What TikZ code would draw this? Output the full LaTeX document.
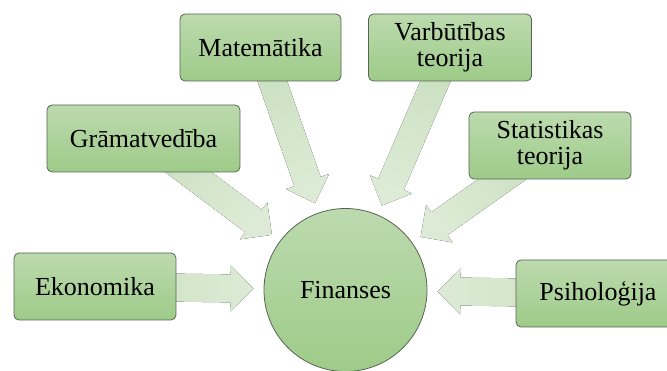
\documentclass[tikz,border=0pt]{standalone}
\usepackage{fontspec}
\setmainfont{Liberation Serif}
\usetikzlibrary{calc,backgrounds}
\definecolor{boxtop}{RGB}{188,218,174}
\definecolor{boxbot}{RGB}{158,203,137}
\definecolor{boxline}{RGB}{88,100,82}
\definecolor{arrdark}{RGB}{201,223,191}
\definecolor{arrlight}{RGB}{221,235,214}
\tikzset{
 box/.style={draw=boxline, line width=0.8pt, rounded corners=5pt, top color=boxtop, bottom color=boxbot,
   minimum height=67pt, inner sep=0pt, align=center, font=\fontsize{26}{26}\selectfont},
 hub/.style={circle, draw=boxline, line width=0.8pt, top color=boxtop, bottom color=boxbot,
   minimum size=163pt, inner sep=0pt, font=\fontsize{26}{26}\selectfont},
 arrfill/.style={top color=arrlight, bottom color=arrdark}
}
\newcommand\radarrow[1]{%
  \pgfmathanglebetweenpoints{\pgfpointanchor{F}{center}}{\pgfpointanchor{#1}{center}}%
  \pgfmathsetmacro\arrsh{\pgfmathresult+90}%
  \coordinate (T) at ($(F.center)!92pt!(#1.center)$);
  \coordinate (H) at ($(T)!23pt!(#1.center)$);
  \fill[arrfill, shading angle=\arrsh]
    ($(#1.center)!14pt!90:(T)$) -- ($(H)!14pt!90:(T)$) -- ($(H)!23pt!90:(T)$) -- (T)
    -- ($(H)!23pt!-90:(T)$) -- ($(H)!14pt!-90:(T)$) -- ($(#1.center)!14pt!-90:(T)$) -- cycle;
}
\begin{document}
\begin{tikzpicture}[x=1pt,y=1pt]
\clip (0,0) rectangle (667,-371);
\node[hub] (F) at (345.5,-290) {Finanses};
\node[box, minimum width=162pt] (Ek) at (95,-286.5) {Ekonomika};
\node[box, minimum width=193pt] (Gr) at (143.5,-138.5) {Grāmatvedība};
\node[box, minimum width=161pt] (Ma) at (260.5,-47.5) {Matemātika};
\node[box, minimum width=163pt] (Va) at (450,-47.5) {Varbūtības\\teorija};
\node[box, minimum width=162pt] (St) at (550,-145.5) {Statistikas\\teorija};
\node[box, minimum width=164pt] (Ps) at (598,-293.5) {Psiholoģija};
\begin{pgfonlayer}{background}
\radarrow{Ek}
\radarrow{Gr}
\radarrow{Ma}
\radarrow{Va}
\radarrow{St}
\radarrow{Ps}
\end{pgfonlayer}
\end{tikzpicture}
\end{document}
